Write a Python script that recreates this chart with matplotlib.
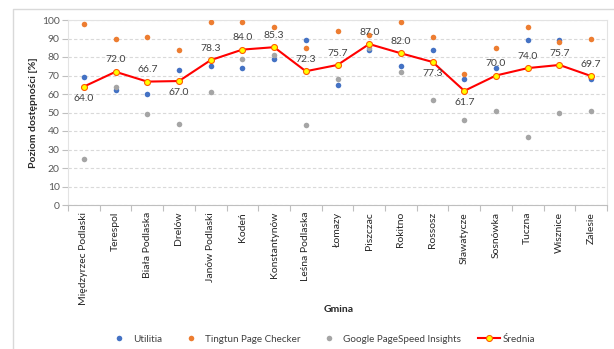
import matplotlib
matplotlib.use("Agg")
import matplotlib.pyplot as plt
from matplotlib.lines import Line2D
import numpy as np

plt.rcParams['font.family'] = ['Lato', 'DejaVu Sans']

gminy = ["Międzyrzec Podlaski", "Terespol", "Biała Podlaska", "Drelów",
         "Janów Podlaski", "Kodeń", "Konstantynów", "Leśna Podlaska",
         "Łomazy", "Piszczac", "Rokitno", "Rossosz", "Sławatycze",
         "Sosnówka", "Tuczna", "Wisznice", "Zalesie"]
utilitia = [69, 62, 60, 73, 75, 74, 79, 89, 65, 84, 75, 84, 68, 74, 89, 89, 68]
tingtun = [98, 90, 91, 84, 99, 99, 96, 85, 94, 92, 99, 91, 71, 85, 96, 88, 90]
pagespeed = [25, 64, 49, 44, 61, 79, 81, 43, 68, 85, 72, 57, 46, 51, 37, 50, 51]
srednia = [64.0, 72.0, 66.7, 67.0, 78.3, 84.0, 85.3, 72.3, 75.7, 87.0,
           82.0, 77.3, 61.7, 70.0, 74.0, 75.7, 69.7]
# labels drawn under the point instead of above it
below = {"Międzyrzec Podlaski", "Drelów", "Rossosz", "Sławatycze"}

W, H = 614, 349
fig = plt.figure(figsize=(W / 100, H / 100), dpi=100)
fig.patch.set_facecolor("white")

# chart area frame
fig.add_artist(Line2D([13 / W, 13 / W, 1], [0, 1 - 9 / H, 1 - 9 / H],
                      transform=fig.transFigure, color="#d9d9d9", lw=1))

ax = fig.add_axes([68 / W, 1 - 205 / H, 539 / W, 185 / H])
x = np.arange(len(gminy))

ax.set_xlim(-0.5, len(gminy) - 0.5)
ax.set_ylim(0, 100)
ax.set_yticks(np.arange(0, 101, 10))
ax.yaxis.grid(True, linestyle=(0, (3, 2)), color="#d9d9d9", lw=0.8)
ax.set_axisbelow(True)

for side in ["top", "right", "left"]:
    ax.spines[side].set_color("#e3e3e3")
    ax.spines[side].set_linewidth(0.8)
ax.spines["bottom"].set_color("#bfbfbf")
ax.spines["bottom"].set_linewidth(0.8)

ax.tick_params(axis="y", length=4, width=0.8, color="#bfbfbf",
               labelsize=7.5, labelcolor="#595959", pad=2)

# tick marks between categories, labels under category centres
ax.set_xticks(np.arange(len(gminy) + 1) - 0.5)
ax.set_xticklabels([])
ax.tick_params(axis="x", which="major", length=4, width=0.8, color="#bfbfbf")
ax.set_xticks(x, minor=True)
ax.set_xticklabels(gminy, minor=True, rotation=90, fontsize=7.5,
                   color="#262626")
ax.tick_params(axis="x", which="minor", length=0, pad=5)

ms = 4.0
ax.plot(x, utilitia, "o", color="#4472C4", ms=ms, mec="none",
        label="Utilitia", zorder=3)
ax.plot(x, tingtun, "o", color="#ED7D31", ms=ms, mec="none",
        label="Tingtun Page Checker", zorder=3)
ax.plot(x, pagespeed, "o", color="#A5A5A5", ms=ms, mec="none",
        label="Google PageSpeed Insights", zorder=3)
ax.plot(x, srednia, "-o", color="#FF0000", lw=1.5, ms=4.3, mfc="#FFFF00",
        mec="#FF5A00", mew=0.8, label="Średnia", zorder=4)

for xi, name, v in zip(x, gminy, srednia):
    dy = -8.6 if name in below else 8.6
    ax.annotate(f"{v:.1f}", (xi, v), xytext=(0, dy), textcoords="offset points",
                ha="center", va="center", fontsize=7.5, color="#404040",
                zorder=5)

ax.set_ylabel("Poziom dostępności [%]", fontsize=7.5, fontweight="bold",
              color="#262626")
ax.yaxis.set_label_coords((38 - 68) / 539, 0.5)

fig.text(339 / W, 1 - 310 / H, "Gmina", ha="center", va="center",
         fontsize=7.5, fontweight="bold", color="#262626")

handles, labels = ax.get_legend_handles_labels()
fig.legend(handles, labels, loc="center", bbox_to_anchor=(322 / W, 1 - 339 / H),
           ncol=4, frameon=False, fontsize=7.1, labelcolor="#404040",
           handlelength=2.2, columnspacing=1.8, handletextpad=0.3,
           borderpad=0.2)

fig.savefig("out.png", dpi=100, facecolor="white")
